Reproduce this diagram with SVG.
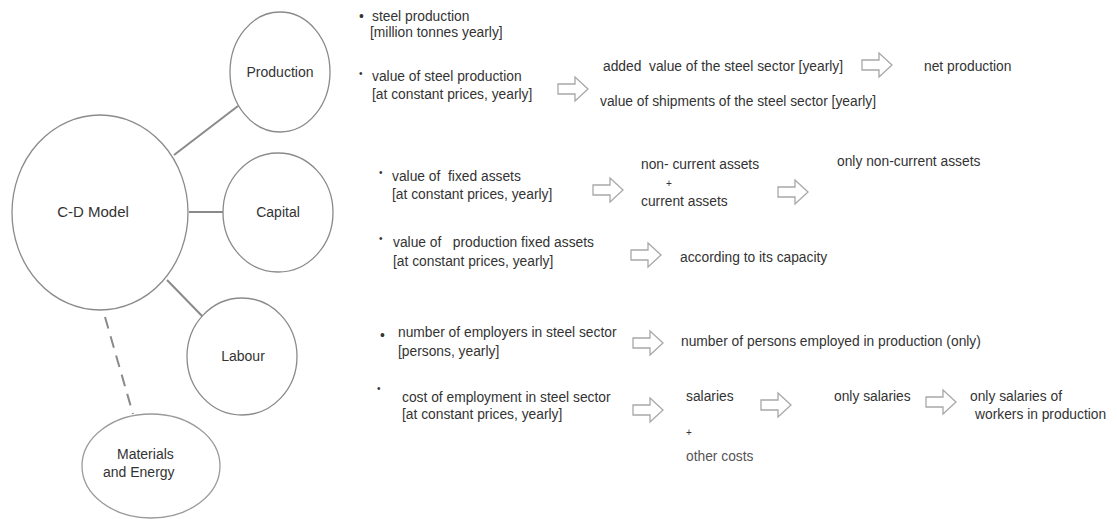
<svg xmlns="http://www.w3.org/2000/svg" xmlns:xlink="http://www.w3.org/1999/xlink" width="1117" height="519" viewBox="0 0 1117 519">
<style>
.t{font-family:"Liberation Sans",Arial,sans-serif;font-size:13.8px;fill:#333;white-space:pre}
.l{font-family:"Liberation Sans",Arial,sans-serif;font-size:14px;fill:#333;white-space:pre}
.b{font-family:"Liberation Sans",Arial,sans-serif;font-size:10px;fill:#333}
.n{fill:#fff;stroke:#8a8a8a;stroke-width:1.3}
.c{stroke:#8a8a8a;stroke-width:2;fill:none}
.d{stroke:#8a8a8a;stroke-width:2;fill:none;stroke-dasharray:12 8}
.arr{fill:#fff;stroke:#a8a8a8;stroke-width:1.3}
</style>
<defs>
<path id="arrow" class="arr" d="M0,-5 H17 V-12 L30,0 L17,12 V5 H0 Z"/>
</defs>
<rect width="1117" height="519" fill="#fff"/>
<g id="connectors">
<line class="c" x1="174" y1="155" x2="238" y2="106"/>
<line class="c" x1="189" y1="212" x2="223" y2="212"/>
<line class="c" x1="167" y1="280" x2="204" y2="318"/>
<line class="d" x1="105" y1="317" x2="133" y2="414"/>
</g>
<g id="cd-model">
<ellipse class="n" cx="100" cy="212.5" rx="88" ry="97.5"/>
<text class="l" x="93" y="217" text-anchor="middle" style="font-size:15px">C-D Model</text>
</g>
<g id="production">
<ellipse class="n" cx="280" cy="72" rx="50" ry="60"/>
<text class="l" x="280" y="77" text-anchor="middle">Production</text>
</g>
<g id="capital">
<ellipse class="n" cx="278" cy="212.5" rx="55" ry="59.5"/>
<text class="l" x="278" y="217" text-anchor="middle">Capital</text>
</g>
<g id="labour">
<ellipse class="n" cx="242" cy="356.5" rx="55" ry="58.5"/>
<text class="l" x="243" y="361" text-anchor="middle">Labour</text>
</g>
<g id="materials">
<ellipse class="n" cx="151" cy="466" rx="69" ry="52" style="stroke:#9a9a9a"/>
<text class="l" x="117" y="459">Materials</text>
<text class="l" x="103" y="477">and Energy</text>
</g>
<g id="production-notes">
<text class="t" x="359" y="21">•</text>
<text class="t" x="372" y="21">steel production</text>
<text class="t" x="370" y="37">[million tonnes yearly]</text>
<text class="b" x="359" y="77">•</text>
<text class="t" x="372" y="81">value of steel production</text>
<text class="t" x="372" y="99">[at constant prices, yearly]</text>
<use xlink:href="#arrow" x="558" y="89"/>
<text class="t" x="603" y="71" xml:space="preserve">added  value of the steel sector [yearly]</text>
<use xlink:href="#arrow" x="862" y="65"/>
<text class="t" x="924" y="71">net production</text>
<text class="t" x="600" y="106">value of shipments of the steel sector [yearly]</text>
</g>
<g id="capital-notes">
<text class="b" x="379" y="176">•</text>
<text class="t" x="392" y="181" xml:space="preserve">value of  fixed assets</text>
<text class="t" x="392" y="199">[at constant prices, yearly]</text>
<use xlink:href="#arrow" x="593" y="190"/>
<text class="t" x="641" y="169">non- current assets</text>
<text class="b" x="666" y="187">+</text>
<text class="t" x="641" y="206">current assets</text>
<use xlink:href="#arrow" x="778" y="192"/>
<text class="t" x="837" y="166">only non-current assets</text>
<text class="b" x="379" y="242">•</text>
<text class="t" x="393" y="247" xml:space="preserve">value of   production fixed assets</text>
<text class="t" x="393" y="266">[at constant prices, yearly]</text>
<use xlink:href="#arrow" x="631" y="255"/>
<text class="t" x="680" y="262">according to its capacity</text>
</g>
<g id="labour-notes">
<text class="t" x="380" y="340">•</text>
<text class="t" x="398" y="337">number of employers in steel sector</text>
<text class="t" x="398" y="356">[persons, yearly]</text>
<use xlink:href="#arrow" x="633" y="343"/>
<text class="t" x="681" y="346">number of persons employed in production (only)</text>
<text class="b" x="377" y="392">•</text>
<text class="t" x="402" y="402">cost of employment in steel sector</text>
<text class="t" x="402" y="419">[at constant prices, yearly]</text>
<use xlink:href="#arrow" x="633" y="410"/>
<text class="t" x="686" y="401">salaries</text>
<use xlink:href="#arrow" x="761" y="405"/>
<text class="t" x="834" y="401">only salaries</text>
<use xlink:href="#arrow" x="926" y="402"/>
<text class="t" x="970" y="401">only salaries of</text>
<text class="t" x="975" y="419">workers in production</text>
<text class="b" x="686" y="436">+</text>
<text class="t" x="686" y="461" style="fill:#555">other costs</text>
</g>
</svg>
